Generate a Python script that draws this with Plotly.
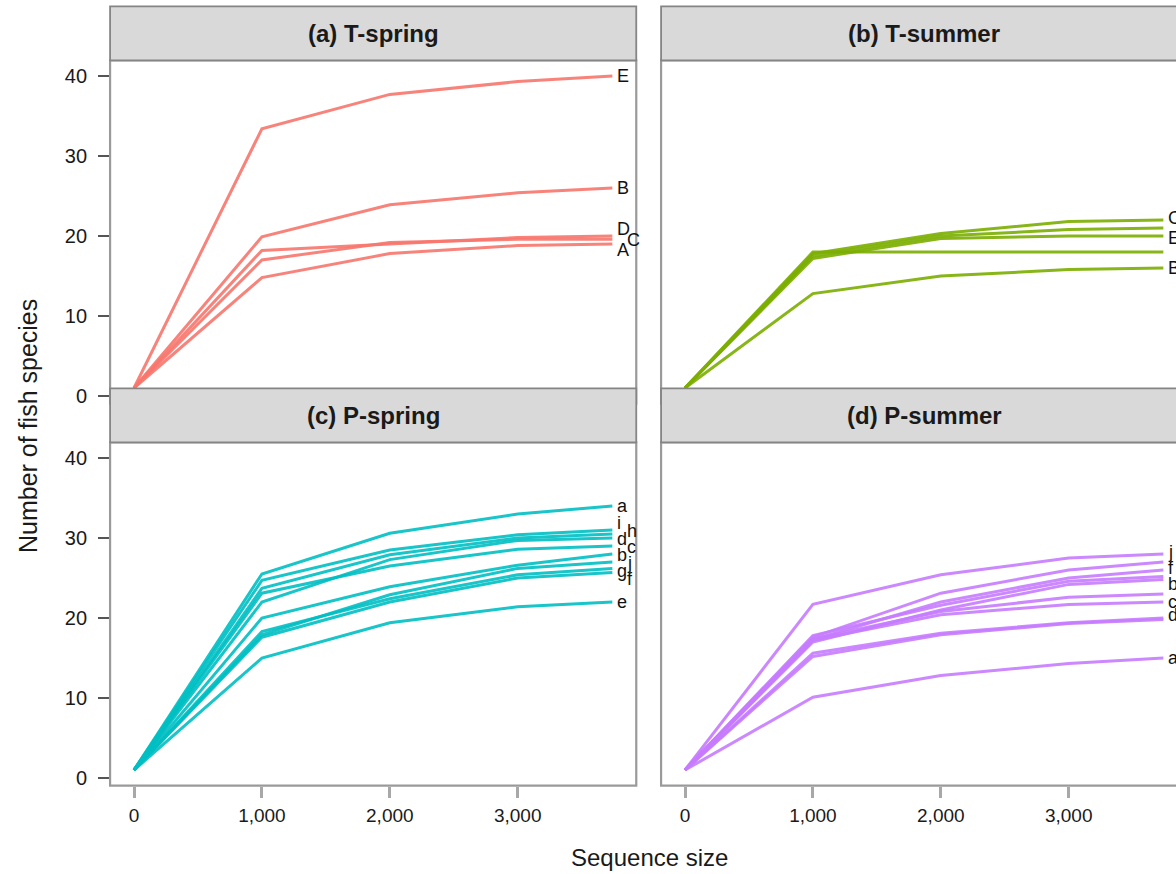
import plotly.graph_objects as go

W, H = 1176, 874

# ---------------- data ----------------
seq_size = [0, 1000, 2000, 3000, 3740]
x_ticks = [0, 1000, 2000, 3000]
x_tick_text = ["0", "1,000", "2,000", "3,000"]
y_ticks = [0, 10, 20, 30, 40]

panel_titles = ["(a) T-spring", "(b) T-summer", "(c) P-spring", "(d) P-summer"]
panel_colors = ["#F8766D", "#7CAE00", "#00BFC4", "#C77CFF"]

t_spring = {
    "E": [1, 33.4, 37.7, 39.3, 40.0],
    "B": [1, 19.9, 23.9, 25.4, 26.0],
    "D": [1, 18.2, 19.0, 19.8, 20.0],
    "C": [1, 17.0, 19.2, 19.6, 19.6],
    "A": [1, 14.8, 17.8, 18.8, 19.0],
}
t_summer = {
    "C": [1, 17.8, 20.3, 21.8, 22.0],
    "A": [1, 17.5, 20.0, 20.8, 21.0],
    "E": [1, 17.2, 19.7, 20.0, 20.0],
    "D": [1, 18.0, 18.0, 18.0, 18.0],
    "B": [1, 12.8, 15.0, 15.8, 16.0],
}
p_spring = {
    "a": [1, 25.5, 30.6, 33.0, 34.0],
    "i": [1, 24.7, 28.5, 30.4, 31.0],
    "h": [1, 23.7, 27.9, 30.0, 30.5],
    "d": [1, 22.0, 27.3, 29.7, 30.0],
    "c": [1, 23.1, 26.5, 28.6, 29.0],
    "b": [1, 20.0, 23.9, 26.6, 28.0],
    "j": [1, 17.9, 22.9, 26.2, 27.0],
    "g": [1, 18.3, 22.4, 25.4, 26.2],
    "f": [1, 17.6, 22.0, 25.0, 25.7],
    "e": [1, 15.0, 19.4, 21.4, 22.0],
}
p_summer = {
    "j": [1, 21.7, 25.4, 27.5, 28.0],
    "e": [1, 17.6, 23.1, 26.0, 27.0],
    "f": [1, 17.3, 22.0, 25.0, 26.0],
    "h": [1, 17.8, 21.6, 24.6, 25.2],
    "b": [1, 17.0, 21.0, 24.2, 24.8],
    "i": [1, 17.4, 20.8, 22.6, 23.0],
    "c": [1, 17.2, 20.4, 21.7, 22.0],
    "d": [1, 15.6, 18.1, 19.4, 20.0],
    "g": [1, 15.2, 17.9, 19.3, 19.8],
    "a": [1, 10.1, 12.8, 14.3, 15.0],
}
panels = [t_spring, t_summer, p_spring, p_summer]

# ---------------- layout geometry (pixels) ----------------
FONT = "Liberation Sans, Arial, sans-serif"
X_ZERO = [134, 685]          # pixel of x = 0 in left / right column
Y_ZERO = [396, 778]          # pixel of y = 0 in top / bottom row
PX_PER_X = 0.1279
PX_PER_Y = 8.0
STRIP_H = 54
LABEL_GAP = [1.3, 1.3, 1.0, 1.0]   # min vertical spacing of direct labels (data units)

all_vals = [v for p in panels for s in p.values() for v in s]
ymin, ymax = min(all_vals), max(all_vals)
ypad = 0.05 * (ymax - ymin)
y_range = [ymin - ypad, ymax + ypad]
xmin, xmax = min(seq_size), max(seq_size)
xpad = 0.05 * (xmax - xmin)
x_range = [xmin - xpad, xmax + xpad]


def px_x(p):
    return p / W


def px_y(p):
    return 1 - p / H


fig = go.Figure()
shapes = []
annotations = []

for k in range(4):
    col, row = k % 2, k // 2
    ax = "" if k == 0 else str(k + 1)
    left_px = X_ZERO[col] + x_range[0] * PX_PER_X
    right_px = X_ZERO[col] + x_range[1] * PX_PER_X
    xr = list(x_range)
    if right_px > W:
        xr[1] = (W - X_ZERO[col]) / PX_PER_X
        right_px_vis = W
    else:
        right_px_vis = right_px
    top_px = Y_ZERO[row] - y_range[1] * PX_PER_Y
    bot_px = Y_ZERO[row] - y_range[0] * PX_PER_Y

    fig.update_layout(**{
        f"xaxis{ax}": dict(
            domain=[px_x(left_px), px_x(right_px_vis)], range=xr,
            anchor=f"y{ax}", showgrid=False, zeroline=False, showline=False,
            tickmode="array", tickvals=x_ticks, ticktext=x_tick_text,
            showticklabels=(row == 1), ticks="outside" if row == 1 else "",
            ticklen=11, tickwidth=2.5, tickcolor="#a8a8a8",
            tickfont=dict(family=FONT, size=19, color="#1a1a1a"),
            ticklabelstandoff=2, automargin=False, fixedrange=True,
        ),
        f"yaxis{ax}": dict(
            domain=[px_y(bot_px), px_y(top_px)], range=y_range,
            anchor=f"x{ax}", showgrid=False, zeroline=False, showline=False,
            tickmode="array", tickvals=y_ticks,
            showticklabels=(col == 0), ticks="outside" if col == 0 else "",
            ticklen=11, tickwidth=1.5, tickcolor="#555555",
            tickfont=dict(family=FONT, size=20, color="#1a1a1a"),
            ticklabelstandoff=7, automargin=False, fixedrange=True,
        ),
    })

    data = panels[k]
    for name, vals in data.items():
        fig.add_trace(go.Scatter(
            x=seq_size, y=vals, mode="lines", name=name,
            line=dict(color=panel_colors[k], width=3),
            opacity=0.9, showlegend=False,
            xaxis=f"x{ax}", yaxis=f"y{ax}", hoverinfo="skip",
        ))

    # direct labels: vertically dodged (isotonic regression on end values),
    # alternating horizontal offset inside tight clusters
    names = list(data.keys())
    ends = [data[n][-1] for n in names]
    gap = LABEL_GAP[k]
    order = sorted(range(len(names)), key=lambda i: -ends[i])
    d = [ends[i] + j * gap for j, i in enumerate(order)]
    blocks = []
    for v in d:
        blocks.append([v, 1])
        while len(blocks) > 1 and blocks[-2][0] / blocks[-2][1] < blocks[-1][0] / blocks[-1][1]:
            s, c = blocks.pop()
            blocks[-1][0] += s
            blocks[-1][1] += c
    z = []
    for s, c in blocks:
        z += [s / c] * c
    prev_y, toggle = None, 0
    for j, i in enumerate(order):
        y_lab = z[j] - j * gap
        if prev_y is not None and prev_y - y_lab < 1.5 * gap:
            toggle = 1 - toggle
        else:
            toggle = 0
        prev_y = y_lab
        annotations.append(dict(
            x=seq_size[-1], y=y_lab, xref=f"x{ax}", yref=f"y{ax}",
            text=names[i], showarrow=False, xanchor="left", yanchor="middle",
            xshift=3 + 10 * toggle, font=dict(family=FONT, size=18, color="#111111"),
        ))

    # panel frame
    shapes.append(dict(
        type="rect", xref="paper", yref="paper", layer="above",
        x0=px_x(left_px), x1=px_x(right_px), y0=px_y(bot_px), y1=px_y(top_px),
        line=dict(color="#9a9a9a", width=2.2), fillcolor="rgba(0,0,0,0)",
    ))

# strips drawn after frames so they sit on top
for k in range(4):
    col, row = k % 2, k // 2
    left_px = X_ZERO[col] + x_range[0] * PX_PER_X
    right_px = X_ZERO[col] + x_range[1] * PX_PER_X
    top_px = Y_ZERO[row] - y_range[1] * PX_PER_Y
    shapes.append(dict(
        type="rect", xref="paper", yref="paper", layer="above",
        x0=px_x(left_px), x1=px_x(right_px), y0=px_y(top_px), y1=px_y(top_px - STRIP_H),
        line=dict(color="#858585", width=1.8), fillcolor="#d9d9d9",
    ))
    annotations.append(dict(
        x=px_x((left_px + right_px) / 2), y=px_y(top_px - STRIP_H / 2),
        xref="paper", yref="paper", text=f"<b>{panel_titles[k]}</b>",
        showarrow=False, xanchor="center", yanchor="middle",
        font=dict(family=FONT, size=24, color="#1a1a1a"),
    ))

# axis titles
annotations.append(dict(
    x=px_x(28), y=px_y(426), xref="paper", yref="paper",
    text="Number of fish species", textangle=-90, showarrow=False,
    xanchor="center", yanchor="middle",
    font=dict(family=FONT, size=25, color="#1a1a1a"),
))
annotations.append(dict(
    x=px_x(649), y=px_y(857), xref="paper", yref="paper",
    text="Sequence size", showarrow=False,
    xanchor="center", yanchor="middle",
    font=dict(family=FONT, size=24, color="#1a1a1a"),
))

fig.update_layout(
    width=W, height=H, template="none",
    margin=dict(l=0, r=0, t=0, b=0),
    paper_bgcolor="white", plot_bgcolor="white",
    shapes=shapes, annotations=annotations, showlegend=False,
)

fig.write_html("out.html", config={"displayModeBar": False},
               post_script="document.body.style.margin='0';document.body.style.overflow='hidden';")
